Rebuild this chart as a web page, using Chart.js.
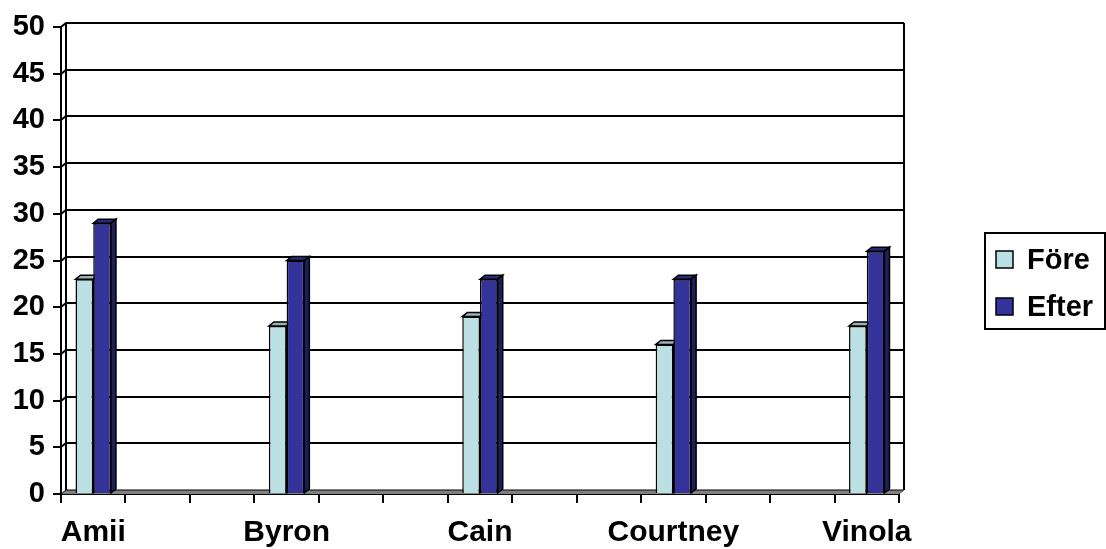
<!DOCTYPE html>
<html>
<head>
<meta charset="utf-8">
<script src="https://cdn.jsdelivr.net/npm/chart.js@4/dist/chart.umd.min.js"></script>
<style>
  html, body { margin: 0; padding: 0; background: #ffffff; }
  #wrap { width: 1106px; height: 549px; position: relative; }
</style>
</head>
<body>
<div id="wrap"><canvas id="chart" width="1106" height="549"></canvas></div>
<script>
// Scores per person, before and after
const names = ['Amii', 'Byron', 'Cain', 'Courtney', 'Vinola'];
const foreValues = [23, 18, 19, 16, 18];
const efterValues = [29, 25, 23, 23, 26];
const seriesNames = ['Före', 'Efter'];
const yMin = 0, yMax = 50, yStep = 5;

// Two empty slots sit between consecutive people on the category axis
const blankSlots = 2;
function spread(list, filler) {
  const out = [];
  list.forEach((v, i) => {
    out.push(v);
    if (i < list.length - 1) for (let k = 0; k < blankSlots; k++) out.push(filler);
  });
  return out;
}
const slotLabels = spread(names, '');
const foreSlots = spread(foreValues, null);
const efterSlots = spread(efterValues, null);

const FONT = "'Liberation Sans', Arial, Helvetica, sans-serif";
const DX = 5, DY = 4;            // depth of the 3-D walls and bars
const faces = [                   // front, top, side shades per series
  { front: '#BBE0E3', top: '#96B3B6', side: '#7A9597' },
  { front: '#333399', top: '#29297A', side: '#1F1F5C' }
];

const threeD = {
  id: 'threeD',
  beforeDatasetsDraw(chart) {
    const { ctx, chartArea: a, scales: { y } } = chart;
    ctx.save();
    // floor
    ctx.fillStyle = '#808080';
    ctx.beginPath();
    ctx.moveTo(a.left, a.bottom);
    ctx.lineTo(a.right, a.bottom);
    ctx.lineTo(a.right + DX, a.bottom - DY);
    ctx.lineTo(a.left + DX, a.bottom - DY);
    ctx.closePath();
    ctx.fill();

    // back-wall grid lines, wrapped onto the left side wall
    ctx.strokeStyle = '#000';
    for (let v = yMin; v <= yMax; v += yStep) {
      const yf = Math.round(y.getPixelForValue(v));
      ctx.beginPath();
      ctx.moveTo(a.left, yf);
      ctx.lineTo(a.left + DX, yf - DY);
      ctx.lineTo(a.right + DX, yf - DY);
      ctx.lineWidth = v === yMin ? 1 : 2;
      ctx.stroke();
    }
    ctx.lineWidth = 2;
    // side wall back edge and back wall right edge
    const topB = Math.round(a.top) - DY, botB = Math.round(a.bottom) - DY;
    ctx.beginPath();
    ctx.moveTo(a.left + DX, topB);
    ctx.lineTo(a.left + DX, botB);
    ctx.moveTo(a.right + DX, topB);
    ctx.lineTo(a.right + DX, botB);
    ctx.stroke();
    ctx.lineWidth = 1;
    ctx.strokeStyle = '#555';
    ctx.beginPath();
    ctx.moveTo(a.right, a.bottom);
    ctx.lineTo(a.right + DX, a.bottom - DY);
    ctx.stroke();

    // top and side faces of each bar
    ctx.strokeStyle = '#000';
    ctx.lineWidth = 1.5;
    chart.data.datasets.forEach((ds, i) => {
      const meta = chart.getDatasetMeta(i);
      meta.data.forEach((bar, j) => {
        if (ds.data[j] == null) return;
        const p = bar.getProps(['x', 'y', 'base', 'width'], true);
        const l = p.x - p.width / 2, r = p.x + p.width / 2;
        ctx.fillStyle = faces[i].top;
        ctx.beginPath();
        ctx.moveTo(l, p.y);
        ctx.lineTo(r, p.y);
        ctx.lineTo(r + DX, p.y - DY);
        ctx.lineTo(l + DX, p.y - DY);
        ctx.closePath();
        ctx.fill(); ctx.stroke();
        ctx.fillStyle = faces[i].side;
        ctx.beginPath();
        ctx.moveTo(r, p.y);
        ctx.lineTo(r + DX, p.y - DY);
        ctx.lineTo(r + DX, p.base - DY);
        ctx.lineTo(r, p.base);
        ctx.closePath();
        ctx.fill(); ctx.stroke();
      });
    });
    ctx.restore();
  },
  afterDraw(chart) {
    // boxed legend on the right
    const { ctx } = chart;
    ctx.save();
    ctx.lineWidth = 2;
    ctx.strokeStyle = '#000';
    ctx.strokeRect(985, 233, 120, 96);
    ctx.font = 'bold 29px ' + FONT;
    ctx.textBaseline = 'alphabetic';
    ctx.textAlign = 'left';
    chart.data.datasets.forEach((ds, i) => {
      const top = 251 + i * 47;
      ctx.fillStyle = ds.backgroundColor;
      ctx.fillRect(996, top, 17, 17);
      ctx.lineWidth = 1.5;
      ctx.strokeRect(996, top, 17, 17);
      ctx.fillStyle = '#000';
      ctx.fillText(ds.label, 1027, top + 18);
    });
    ctx.restore();
  }
};

new Chart(document.getElementById('chart'), {
  type: 'bar',
  data: {
    labels: slotLabels,
    datasets: [
      { label: seriesNames[0], data: foreSlots, backgroundColor: faces[0].front,
        borderColor: '#000', borderWidth: 1.5, categoryPercentage: 0.55, barPercentage: 1 },
      { label: seriesNames[1], data: efterSlots, backgroundColor: faces[1].front,
        borderColor: '#000', borderWidth: 1.5, categoryPercentage: 0.55, barPercentage: 1 }
    ]
  },
  options: {
    responsive: false,
    animation: false,
    layout: { padding: { top: 27, right: 207, left: 0, bottom: 0 } },
    plugins: { legend: { display: false }, tooltip: { enabled: false } },
    scales: {
      x: {
        grid: { display: true, drawOnChartArea: false, offset: true, tickLength: 9, color: '#000', lineWidth: 2 },
        border: { display: true, color: '#000', width: 2 },
        ticks: { autoSkip: false, maxRotation: 0, color: '#000', padding: 12,
                 font: { family: FONT, size: 30, weight: 'bold' } },
        afterFit(s) { s.height = 55; }
      },
      y: {
        min: yMin, max: yMax,
        grid: { drawOnChartArea: false, tickLength: 8, color: '#000', lineWidth: 2 },
        border: { display: true, color: '#000', width: 2 },
        ticks: { stepSize: yStep, color: '#000', padding: 8,
                 font: { family: FONT, size: 29, weight: 'bold' } },
        afterFit(s) { s.width = 61; }
      }
    }
  },
  plugins: [threeD]
});
</script>
</body>
</html>
